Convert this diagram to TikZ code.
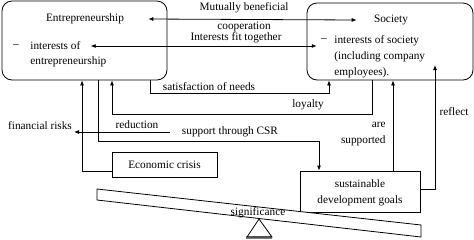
\documentclass[tikz,border=0pt]{standalone}
\usepackage{fontspec}
\setmainfont{Liberation Serif}
\usetikzlibrary{arrows.meta}
\begin{document}
\begin{tikzpicture}[x=1pt,y=-1pt,
  font=\fontsize{11.3}{16}\selectfont,
  line width=0.8pt,
  >={Latex[length=5pt,width=4pt]},
  bigbox/.style={draw, rounded corners=10pt, inner sep=0pt},
  plainbox/.style={draw, inner sep=0pt},
  lbl/.style={inner sep=0pt, anchor=center},
  lline/.style={inner sep=0pt, anchor=west}]
\useasboundingbox (0,0) rectangle (474,239);

% main boxes
\node[bigbox, minimum width=165pt, minimum height=79pt] (E) at (84.5,40.5) {};
\node[bigbox, minimum width=166pt, minimum height=77pt] (S) at (390,41.5) {};
\node[plainbox, minimum width=105pt, minimum height=25pt] (EC) at (164.5,164.5) {Economic crisis};
\node[plainbox, minimum width=120pt, minimum height=41pt] (SDG) at (360,191.5) {};
\node[lbl] (sdg1) at (360,184) {sustainable};
\node[lbl] (sdg2) at (360,201) {development goals};

% texts inside boxes
\node[lbl] (Et) at (85,19) {Entrepreneurship};
\node[lbl] (Ed) at (16,46) {–};
\node[lline] (Ei1) at (30,46) {interests of};
\node[lline] (Ei2) at (30,62) {entrepreneurship};
\node[lbl] (St) at (391,20) {Society};
\node[lbl] (Sd) at (324,40) {–};
\node[lline] (Si1) at (334,41) {interests of society};
\node[lline] (Si2) at (334,57) {(including company};
\node[lline] (Si3) at (334,73) {employees).};

% seesaw
\draw[fill=white] (97,189) -- (421,225) -- (421,237) -- (97,200) -- cycle;
\fill[gray] (246,235.5) rectangle (272,239);
\draw (259,219) -- (247,237) -- (272,237) -- cycle;
\node[lbl] (sig) at (258,213) {significance};

% labels
\node[lbl] (mb1) at (244,8) {Mutually beneficial};
\node[lbl] (mb2) at (244,27) {cooperation};
\node[lbl] (fit) at (236,38) {Interests fit together};
\node[lbl] (sat) at (209,87) {satisfaction of needs};
\node[lbl] (loy) at (308,105) {loyalty};
\node[lbl] (red) at (137,125) {reduction};
\node[lbl] (csr) at (230,132) {support through CSR};
\node[lbl] (fin) at (40,126) {financial risks};
\node[lbl, anchor=east, align=right] (are) at (386,134) {are\\supported};
\node[lbl] (ref) at (454,112) {reflect};

% connectors
\draw[<->] ([xshift=24pt]Et.east) -- ([xshift=-17pt]St.west);
\draw[<->] ([xshift=10pt]Ei1.east) -- ([xshift=-4pt,yshift=-6pt]Sd.west);
\draw[->] ([yshift=-6.5pt]EC.west) -| ([xshift=-2.5pt]E.south);
\draw[->] ([xshift=13.5pt]E.south) -- ++(0,61) -| ([xshift=-41pt]SDG.north);
\draw[->] ([xshift=-12pt]csr.west) -- (74,132);
\draw[->] ([xshift=-18pt]S.south) -- ++(0,34) -| ([xshift=27.5pt]E.south);
\draw[->] ([xshift=66pt]E.south) -- ++(0,13) -| ([xshift=-61pt]S.south);
\draw[->] ([xshift=33pt]SDG.north) -- ([xshift=33pt]SDG.north |- S.south);
\draw[->] ([yshift=2.5pt]SDG.east) -| ([xshift=45pt,yshift=-23.5pt]S.center);
\end{tikzpicture}
\end{document}
